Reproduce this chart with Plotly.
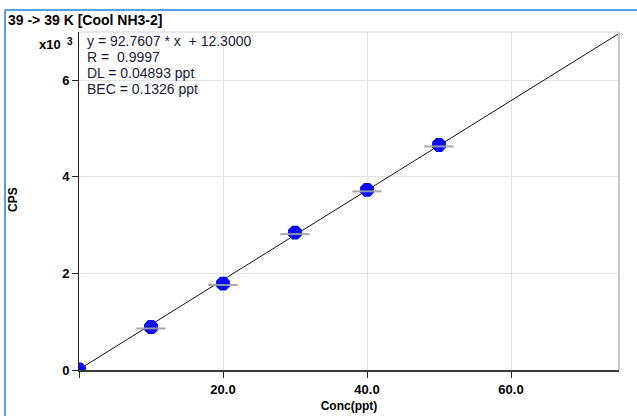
import plotly.graph_objects as go

# Calibration standards for 39 -> 39 K [Cool NH3-2]
conc_ppt = [0, 10, 20, 30, 40, 50]
cps_k = [0.01, 0.89, 1.79, 2.845, 3.73, 4.66]   # counts per second, x10^3

slope = 92.7607
intercept = 12.3
x_ticks = [0, 20, 40, 60]
x_tick_labels = ["", "20.0", "40.0", "60.0"]
y_ticks = [0, 2, 4, 6]
y_tick_labels = ["0", "2", "4", "6"]
stats_lines = [
    "y = 92.7607 * x  + 12.3000",
    "R =  0.9997",
    "DL = 0.04893 ppt",
    "BEC = 0.1326 ppt",
]

W, H = 637, 416
L, R, T, B = 79, 619, 32, 370


def px(x):
    return (x - L) / (R - L)


def py(y):
    return (B - y) / (B - T)


x_max = 75
line_x = [0, x_max]
line_y = [(slope * v + intercept) / 1000 for v in line_x]

fig = go.Figure()

fig.add_trace(go.Scatter(
    x=line_x, y=line_y, mode="lines",
    line=dict(color="#111111", width=1), hoverinfo="skip",
))
fig.add_trace(go.Scatter(
    x=conc_ppt, y=cps_k, mode="markers",
    marker=dict(symbol="octagon", size=15, color="#0a0aff",
                line=dict(width=0)),
))
fig.add_trace(go.Scatter(
    x=conc_ppt, y=[v - 0.03 for v in cps_k], mode="markers",
    marker=dict(symbol="line-ew", size=21,
                line=dict(color="rgba(160,160,160,0.9)", width=2)),
))

font_tick = dict(family="Liberation Sans", size=13, color="#000000")

fig.update_xaxes(
    range=[0, x_max], tickvals=x_ticks, ticktext=[f"<b>{t}</b>" for t in x_tick_labels],
    showgrid=True, gridcolor="#e3e3e3", gridwidth=1,
    showline=True, linecolor="#3a3a3a", linewidth=2,
    ticks="outside", ticklen=6, tickcolor="#222222",
    tickfont=font_tick, zeroline=False, automargin=False,
    title=dict(text="<b>Conc(ppt)</b>", font=dict(family="Liberation Sans", size=12, color="#000"), standoff=6),
)
fig.update_yaxes(
    range=[0, 7.0], tickvals=y_ticks, ticktext=[f"<b>{t}</b>" for t in y_tick_labels],
    showgrid=True, gridcolor="#e3e3e3", gridwidth=1,
    showline=True, linecolor="#222222", linewidth=1,
    ticks="outside", ticklen=6, tickcolor="#222222",
    tickfont=font_tick, zeroline=False, automargin=False,
)

shapes = [
    # light frame around the plot area
    dict(type="line", xref="paper", yref="paper", x0=1, x1=1, y0=0, y1=1,
         line=dict(color="#c8c8c8", width=2)),
    dict(type="line", xref="paper", yref="paper", x0=0, x1=1, y0=1, y1=1,
         line=dict(color="#d0d0d0", width=1)),
    # window border
    dict(type="line", xref="paper", yref="paper", x0=px(5), x1=px(W), y0=py(10), y1=py(10),
         line=dict(color="#5b9fe3", width=2)),
    dict(type="line", xref="paper", yref="paper", x0=px(5), x1=px(5), y0=py(10), y1=py(H + 5),
         line=dict(color="#5b9fe3", width=2)),
]

annotations = [
    dict(text="<b>39 -> 39 K [Cool NH3-2]</b>", xref="paper", yref="paper",
         x=px(6), y=py(20), xanchor="left", yanchor="middle", showarrow=False,
         font=dict(family="Liberation Sans", size=14, color="#000")),
    dict(text="<b>x10</b>", xref="paper", yref="paper",
         x=px(63), y=py(45), xanchor="right", yanchor="middle", showarrow=False,
         font=dict(family="Liberation Sans", size=13, color="#000")),
    dict(text="<b>3</b>", xref="paper", yref="paper",
         x=px(65), y=py(41), xanchor="left", yanchor="middle", showarrow=False,
         font=dict(family="Liberation Sans", size=10, color="#000")),
    dict(text="<b>CPS</b>", xref="paper", yref="paper", textangle=-90,
         x=px(13), y=py(200), xanchor="center", yanchor="middle", showarrow=False,
         font=dict(family="Liberation Sans", size=12, color="#000")),
]
for i, s in enumerate(stats_lines):
    annotations.append(dict(
        text=s, xref="paper", yref="paper", x=px(85), y=py(41 + 16 * i),
        xanchor="left", yanchor="middle", showarrow=False,
        font=dict(family="Liberation Sans", size=14, color="#1a1a3a"),
    ))

fig.update_layout(
    width=W, height=H,
    margin=dict(l=L, r=W - R, t=T, b=H - B),
    paper_bgcolor="#ffffff", plot_bgcolor="#ffffff",
    showlegend=False, shapes=shapes, annotations=annotations,
)

fig.write_html("out.html")
